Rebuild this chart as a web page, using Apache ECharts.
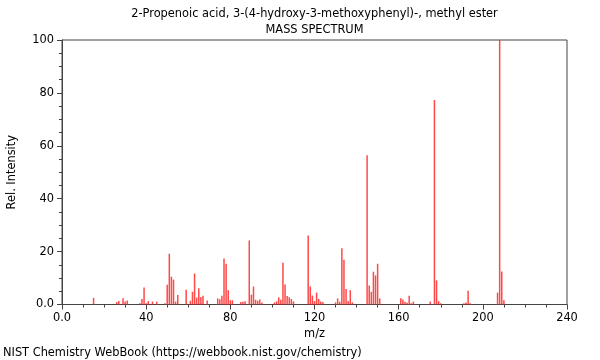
<!DOCTYPE html>
<html>
<head>
<meta charset="utf-8">
<script src="https://cdn.jsdelivr.net/npm/echarts@6/dist/echarts.min.js"></script>
<style>
html,body{margin:0;padding:0;background:#fff;}
#chart{width:600px;height:360px;}
</style>
</head>
<body>
<div id="chart"></div>
<script>
const titleLine1 = "2-Propenoic acid, 3-(4-hydroxy-3-methoxyphenyl)-, methyl ester";
const titleLine2 = "MASS SPECTRUM";
const footer = "NIST Chemistry WebBook (https://webbook.nist.gov/chemistry)";
const xName = "m/z";
const yName = "Rel. Intensity";

const mz = [15,26,27,29,30,31,37,38,39,40,41,43,45,49,50,51,52,53,54,55,59,61,62,63,64,65,66,67,69,74,75,76,77,78,79,80,81,85,86,87,89,90,91,92,93,94,95,101,102,103,104,105,106,107,108,109,110,117,118,119,120,121,122,123,124,130,131,132,133,134,135,136,137,138,145,146,147,148,149,150,151,161,162,163,164,165,166,167,175,177,178,179,180,191,192,193,194,207,208,209,210];
const intensity = [2.5,0.9,1.3,2.4,1.1,1.5,0.5,2.1,6.4,0.5,1.3,1.1,1.1,0.5,7.5,19.2,10.5,9.4,1.1,3.6,5.6,1.4,4.8,11.7,2.6,6.1,2.8,3.3,1.5,2.3,2.0,3.3,17.4,15.4,5.4,1.6,1.6,0.9,1.0,1.2,24.2,3.7,6.8,1.8,1.4,1.9,0.8,0.8,1.2,2.7,1.8,15.8,7.6,3.2,2.7,2.1,1.2,26.1,6.8,3.4,1.3,4.5,2.1,1.1,0.9,0.8,2.3,1.0,21.3,16.9,5.9,1.3,5.4,0.8,56.4,7.2,4.8,12.4,11.0,15.4,2.3,2.4,1.9,1.0,0.8,3.3,0.5,1.1,1.1,77.3,9.1,1.3,0.5,0.5,0.8,5.2,0.5,4.5,100,12.5,1.6];

const xMin = 0, xMax = 240, xStep = 40;
const yMin = 0, yMax = 100, yStep = 20;

const data = mz.map((m, i) => [m, intensity[i]]);
const font = 'DejaVu Sans';
const fs = 11.4;
const axisColor = '#444';

const chart = echarts.init(document.getElementById('chart'), null, {renderer: 'canvas'});
chart.setOption({
  animation: false,
  backgroundColor: '#fff',
  grid: {left: 62, right: 33, top: 40, bottom: 55.5, show: true, borderColor: axisColor, borderWidth: 1,
    containLabel: false, outerBoundsMode: 'none'},
  graphic: [
    {type: 'text', x: 314.5, y: 14, style: {text: titleLine1, font: fs + 'px "DejaVu Sans"', fill: '#000', textAlign: 'center', textVerticalAlign: 'middle'}},
    {type: 'text', x: 314.5, y: 30, style: {text: titleLine2, font: fs + 'px "DejaVu Sans"', fill: '#000', textAlign: 'center', textVerticalAlign: 'middle'}},
    {type: 'text', x: 3, y: 353, style: {text: footer, font: fs + 'px "DejaVu Sans"', fill: '#000', textAlign: 'left', textVerticalAlign: 'middle'}}
  ],
  xAxis: {
    type: 'value', min: xMin, max: xMax, interval: xStep,
    name: xName, nameLocation: 'middle', nameGap: 24,
    nameTextStyle: {fontFamily: font, fontSize: fs, color: '#000'},
    axisLine: {show: true, lineStyle: {color: axisColor}},
    axisTick: {show: true, inside: false, length: 5, lineStyle: {color: axisColor}},
    minorTick: {show: true, splitNumber: 4, length: 3, lineStyle: {color: axisColor}},
    splitLine: {show: false},
    axisLabel: {fontFamily: font, fontSize: fs, color: '#000', margin: 8,
      formatter: v => v === 0 ? '0.0' : String(v)}
  },
  yAxis: {
    type: 'value', min: yMin, max: yMax, interval: yStep,
    name: yName, nameLocation: 'middle', nameGap: 44, nameRotate: 90,
    nameTextStyle: {fontFamily: font, fontSize: fs, color: '#000'},
    axisLine: {show: true, lineStyle: {color: axisColor}},
    axisTick: {show: true, inside: false, length: 5, lineStyle: {color: axisColor}},
    minorTick: {show: true, splitNumber: 4, length: 3, lineStyle: {color: axisColor}},
    splitLine: {show: false},
    axisLabel: {fontFamily: font, fontSize: fs, color: '#000', margin: 8,
      formatter: v => v === 0 ? '0.0' : String(v)}
  },
  series: [{
    type: 'bar',
    data: data,
    barWidth: 1.5,
    itemStyle: {color: 'rgba(255,40,40,0.85)'},
    emphasis: {disabled: true}
  }]
});
</script>
</body>
</html>
